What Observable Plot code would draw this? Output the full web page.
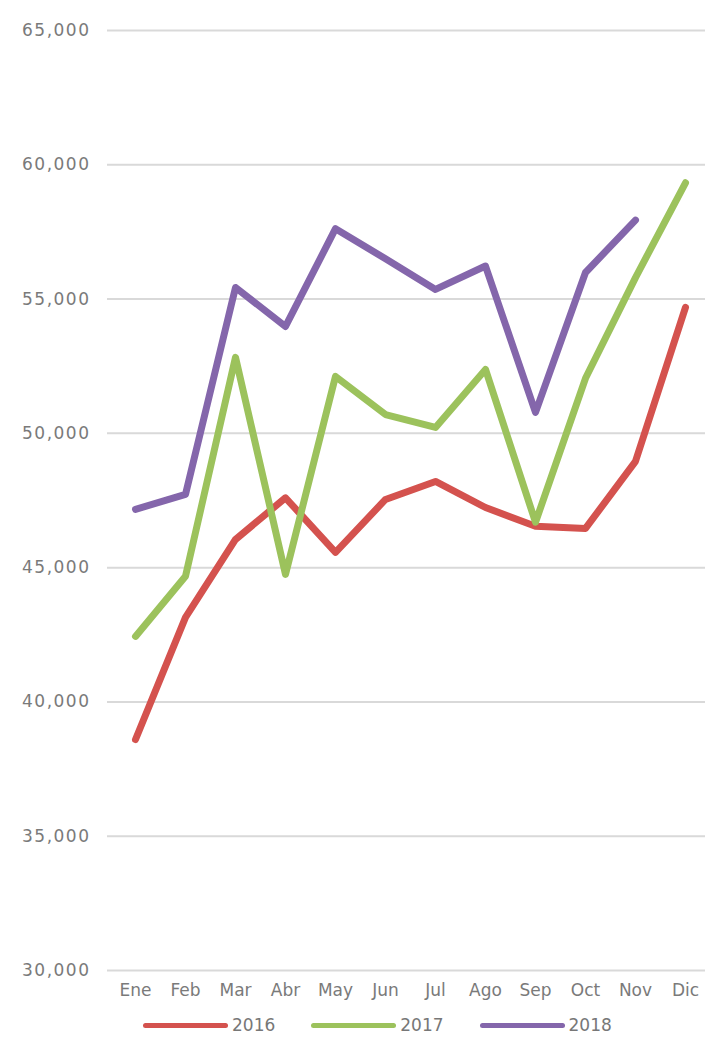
<!DOCTYPE html>
<html><head><meta charset="utf-8">
<script src="https://cdn.jsdelivr.net/npm/d3@7"></script>
<script src="https://cdn.jsdelivr.net/npm/@observablehq/plot@0.6"></script>
<style>
body{margin:0;background:#fff;font-family:"DejaVu Sans",sans-serif;}
#chart svg{display:block;}
#chart g[aria-label="y-axis tick label"] text{letter-spacing:1.5px;}
#legend{display:flex;align-items:center;height:20px;margin-top:3px;padding-left:143px;color:#777;font-size:17px;}
.item{display:flex;align-items:center;margin-right:36px;}
.sw{width:85px;height:5px;border-radius:3px;margin-right:4px;}
</style></head><body>
<div id="chart"></div>
<div id="legend"></div>
<script>
const months = ["Ene","Feb","Mar","Abr","May","Jun","Jul","Ago","Sep","Oct","Nov","Dic"];
const values2016 = [38600, 43150, 46050, 47600, 45570, 47540, 48210, 47240, 46540, 46460, 48960, 54690];
const values2017 = [42440, 44680, 52830, 44750, 52120, 50700, 50220, 52380, 46690, 52050, 55800, 59330];
const values2018 = [47170, 47730, 55430, 53980, 57620, 56500, 55360, 56230, 50780, 55990, 57940, null];
const years = ["2016", "2017", "2018"];
const colors = ["#d4524e", "#9cc25c", "#8466ab"];
const yTicks = [30000, 35000, 40000, 45000, 50000, 55000, 60000, 65000];

const series = [values2016, values2017, values2018];
const data = [];
series.forEach((vals, i) => vals.forEach((v, j) => {
  if (v != null) data.push({year: years[i], month: months[j], value: v});
}));

const chart = Plot.plot({
  width: 705,
  height: 1012,
  marginTop: 30,
  marginBottom: 42,
  marginLeft: 107,
  marginRight: 0,
  style: {fontFamily: "'DejaVu Sans', sans-serif", fontSize: "17px", color: "#7a7a7a", background: "#fff"},
  x: {type: "point", domain: months, range: [134, 685], padding: 0},
  y: {domain: [30000, 65000], range: [970, 30]},
  color: {domain: years, range: colors},
  marks: [
    Plot.ruleY(yTicks, {stroke: "#d9d9d9", strokeWidth: 2}),
    Plot.axisY({ticks: yTicks, tickSize: 0, tickPadding: 17, tickFormat: d3.format(","), label: null}),
    Plot.axisX({tickSize: 0, tickPadding: 13, label: null}),
    Plot.line(data, {x: "month", y: "value", z: "year", stroke: "year", strokeWidth: 7, strokeLinejoin: "round", strokeLinecap: "round"})
  ]
});
document.getElementById("chart").appendChild(chart);

const legend = document.getElementById("legend");
years.forEach((y, i) => {
  const it = document.createElement("div");
  it.className = "item";
  const sw = document.createElement("div");
  sw.className = "sw";
  sw.style.background = colors[i];
  const t = document.createElement("span");
  t.textContent = y;
  it.appendChild(sw); it.appendChild(t);
  legend.appendChild(it);
});
</script>
</body></html>
